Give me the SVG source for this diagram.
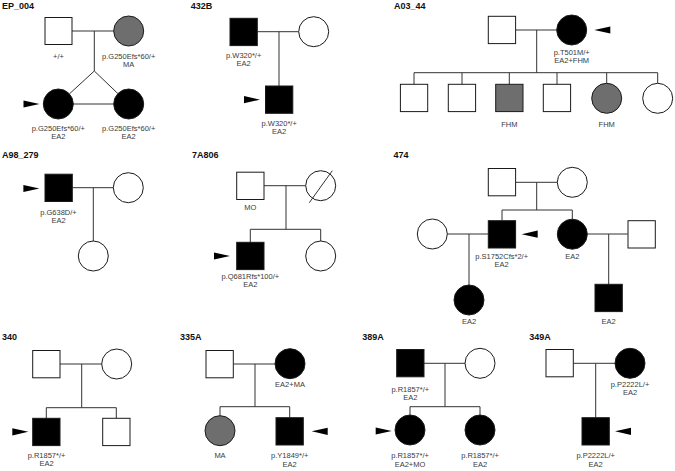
<svg xmlns="http://www.w3.org/2000/svg" xmlns:xlink="http://www.w3.org/1999/xlink" width="675" height="471" viewBox="0 0 675 471">
<style>
.n{fill:#fff;stroke:#1a1a1a;stroke-width:1}
.a{fill:#000;stroke:#1a1a1a;stroke-width:1}
.g{fill:#6e6e6e;stroke:#1a1a1a;stroke-width:1}
.c{fill:none;stroke:#333;stroke-width:1}
.t{font-family:"Liberation Sans",Arial,sans-serif;font-size:9px;font-weight:bold;fill:#111}
.l{font-family:"Liberation Sans",Arial,sans-serif;font-size:7.5px;fill:#3a3a3a;text-anchor:middle}
.arw{fill:#000}
</style>
<defs>
<path id="ar" d="M0,0 L-16,-3.6 L-16,3.6 Z"/>
</defs>
<rect width="675" height="471" fill="#fff"/>

<!-- EP_004 -->
<g id="EP_004">
<text class="t" x="2" y="9">EP_004</text>
<g class="connectors">
<path class="c" d="M72,31 H113.7 M94.3,31 V71 L69.4,93.9 M94.3,71 L117.9,93.6 M73.3,104 H113.7"/>
</g>
<g id="ep_f"><rect class="n" x="45" y="17.5" width="27" height="27"/><text class="l" x="58.5" y="59.3">+/+</text></g>
<g id="ep_m"><circle class="g" cx="128.7" cy="31" r="15"/><text class="l" x="128.7" y="59.3">p.G250Efs*60/+</text><text class="l" x="128.7" y="67.3">MA</text></g>
<g id="ep_c1"><circle class="a" cx="58.3" cy="104" r="15"/><use href="#ar" class="arw" transform="translate(39.5,104)"/><text class="l" x="58.3" y="131">p.G250Efs*60/+</text><text class="l" x="58.3" y="139">EA2</text></g>
<g id="ep_c2"><circle class="a" cx="128.7" cy="104" r="15"/><text class="l" x="128.7" y="131">p.G250Efs*60/+</text><text class="l" x="128.7" y="139">EA2</text></g>
</g>

<!-- 432B -->
<g id="p432B">
<text class="t" x="190.7" y="9">432B</text>
<g class="connectors">
<path class="c" d="M257.3,31.7 H298.7 M279,31.7 V86"/>
</g>
<g id="b_f"><rect class="a" x="230" y="18.3" width="27.3" height="27.3"/><text class="l" x="243.7" y="57.5">p.W320*/+</text><text class="l" x="243.7" y="65.7">EA2</text></g>
<g id="b_m"><circle class="n" cx="313.7" cy="31.7" r="15"/></g>
<g id="b_c"><rect class="a" x="265.5" y="86" width="27.3" height="27.3"/><use href="#ar" class="arw" transform="translate(260,99.7)"/><text class="l" x="279.2" y="126">p.W320*/+</text><text class="l" x="279.2" y="134.2">EA2</text></g>
</g>

<!-- A03_44 -->
<g id="A03_44">
<text class="t" x="394" y="9">A03_44</text>
<g class="connectors">
<path class="c" d="M515.7,30 H556.7 M536.7,30 V72.7 M414,72.7 H657.7 M414,72.7 V84.3 M462,72.7 V84.3 M509.3,72.7 V84.3 M557,72.7 V84.3 M606.7,72.7 V83.3 M657.7,72.7 V83.3"/>
</g>
<g id="a_f"><rect class="n" x="488.3" y="16.3" width="27.3" height="27.3"/></g>
<g id="a_m"><circle class="a" cx="571.7" cy="30" r="15"/><use href="#ar" class="arw" transform="translate(594.3,30) scale(-1,1)"/><text class="l" x="571.7" y="55">p.T501M/+</text><text class="l" x="571.7" y="63.3">EA2+FHM</text></g>
<g id="a_c1"><rect class="n" x="400.4" y="84.3" width="27.3" height="27.3"/></g>
<g id="a_c2"><rect class="n" x="448.3" y="84.3" width="27.3" height="27.3"/></g>
<g id="a_c3"><rect class="g" x="495.7" y="84.3" width="27.3" height="27.3"/><text class="l" x="509.3" y="127">FHM</text></g>
<g id="a_c4"><rect class="n" x="543.3" y="84.3" width="27.3" height="27.3"/></g>
<g id="a_c5"><circle class="g" cx="606.7" cy="98.3" r="15"/><text class="l" x="606.7" y="127">FHM</text></g>
<g id="a_c6"><circle class="n" cx="657.7" cy="98.3" r="15"/></g>
</g>

<!-- A98_279 -->
<g id="A98_279">
<text class="t" x="2" y="158.3">A98_279</text>
<g class="connectors">
<path class="c" d="M72.3,187.7 H113.3 M93.3,187.7 V241"/>
</g>
<g id="c_f"><rect class="a" x="45" y="174.2" width="27.3" height="27.3"/><use href="#ar" class="arw" transform="translate(39.4,188.5)"/><text class="l" x="58.5" y="214.5">p.G638D/+</text><text class="l" x="58.5" y="223">EA2</text></g>
<g id="c_m"><circle class="n" cx="128.3" cy="187.7" r="15"/></g>
<g id="c_c"><circle class="n" cx="93.3" cy="256" r="15"/></g>
</g>

<!-- 7A806 -->
<g id="p7A806">
<text class="t" x="192" y="158.3">7A806</text>
<g class="connectors">
<path class="c" d="M264,185.7 H305.7 M286,185.7 V229.3 M250.3,229.3 H320.7 M250.3,229.3 V242.3 M320.7,229.3 V241"/>
</g>
<g id="d_f"><rect class="n" x="236.7" y="172.2" width="27.3" height="27.3"/><text class="l" x="250.3" y="210">MO</text></g>
<g id="d_m"><circle class="n" cx="320.7" cy="185.7" r="15"/><path class="c" d="M309.3,202.7 L332.3,170.7"/></g>
<g id="d_c1"><rect class="a" x="236.7" y="242.3" width="27.3" height="27.3"/><use href="#ar" class="arw" transform="translate(230,256)"/><text class="l" x="250.3" y="278.5">p.Q681Rfs*100/+</text><text class="l" x="250.3" y="286.8">EA2</text></g>
<g id="d_c2"><circle class="n" cx="320.7" cy="256" r="15"/></g>
</g>

<!-- 474 -->
<g id="p474">
<text class="t" x="393.5" y="158.3">474</text>
<g class="connectors">
<path class="c" d="M515.7,182.3 H557.3 M536.7,182.3 V210 M502,210 H572.3 M502,210 V220.7 M572.3,210 V219.3 M447.3,234 H488.3 M469,234 V285 M587.3,234 H627.7 M608.7,234 V284.3"/>
</g>
<g id="e_gf"><rect class="n" x="488.3" y="168.5" width="27.3" height="27.3"/></g>
<g id="e_gm"><circle class="n" cx="572.3" cy="182.3" r="15"/></g>
<g id="e_s"><rect class="a" x="488.3" y="220.7" width="27.3" height="27.3"/><use href="#ar" class="arw" transform="translate(521.7,234.2) scale(-1,1)"/><text class="l" x="501.7" y="258.5">p.S1752Cfs*2/+</text><text class="l" x="501.7" y="266.8">EA2</text></g>
<g id="e_d"><circle class="a" cx="572.3" cy="234.2" r="15"/><text class="l" x="572.3" y="258.5">EA2</text></g>
<g id="e_w"><circle class="n" cx="432.3" cy="234" r="15"/></g>
<g id="e_h"><rect class="n" x="628" y="220.7" width="27.3" height="27.3"/></g>
<g id="e_gc1"><circle class="a" cx="469" cy="300" r="15"/><text class="l" x="469" y="323.5">EA2</text></g>
<g id="e_gc2"><rect class="a" x="595" y="284.3" width="27.3" height="27.3"/><text class="l" x="608.7" y="323.5">EA2</text></g>
</g>

<!-- 340 -->
<g id="p340">
<text class="t" x="2" y="340">340</text>
<g class="connectors">
<path class="c" d="M60,364 H101.7 M81.7,364 V407.7 M46.3,407.7 H116.3 M46.3,407.7 V418.3 M116.3,407.7 V418.3"/>
</g>
<g id="f_f"><rect class="n" x="32.7" y="350.5" width="27.3" height="27.3"/></g>
<g id="f_m"><circle class="n" cx="116.7" cy="364" r="15"/></g>
<g id="f_c1"><rect class="a" x="32.7" y="418.3" width="27.3" height="27.3"/><use href="#ar" class="arw" transform="translate(28.3,431.8)"/><text class="l" x="46.5" y="457.7">p.R1857*/+</text><text class="l" x="46.5" y="466">EA2</text></g>
<g id="f_c2"><rect class="n" x="102.7" y="418.3" width="27.3" height="27.3"/></g>
</g>

<!-- 335A -->
<g id="p335A">
<text class="t" x="180" y="340">335A</text>
<g class="connectors">
<path class="c" d="M233.3,364 H275 M255,364 V406.7 M220,406.7 H289.7 M220,406.7 V415.7 M289.7,406.7 V417.7"/>
</g>
<g id="g_f"><rect class="n" x="206" y="350.5" width="27.3" height="27.3"/></g>
<g id="g_m"><circle class="a" cx="290" cy="363.7" r="15"/><text class="l" x="290" y="387">EA2+MA</text></g>
<g id="g_c1"><circle class="g" cx="220" cy="430.7" r="15"/><text class="l" x="220" y="458">MA</text></g>
<g id="g_c2"><rect class="a" x="276" y="417.7" width="27.3" height="27.3"/><use href="#ar" class="arw" transform="translate(311.7,431.3) scale(-1,1)"/><text class="l" x="289.7" y="458">p.Y1849*/+</text><text class="l" x="289.7" y="466.5">EA2</text></g>
</g>

<!-- 389A -->
<g id="p389A">
<text class="t" x="362.3" y="340">389A</text>
<g class="connectors">
<path class="c" d="M424,363.3 H465 M445,363.3 V406.7 M410,406.7 H480 M410,406.7 V415 M480,406.7 V415"/>
</g>
<g id="h_f"><rect class="a" x="396.7" y="349.5" width="27.3" height="27.3"/><text class="l" x="410.3" y="391.7">p.R1857*/+</text><text class="l" x="410.3" y="400">EA2</text></g>
<g id="h_m"><circle class="n" cx="480" cy="363.3" r="15"/></g>
<g id="h_c1"><circle class="a" cx="410" cy="430" r="15"/><use href="#ar" class="arw" transform="translate(391.7,431)"/><text class="l" x="410" y="458">p.R1857*/+</text><text class="l" x="410" y="466.5">EA2+MO</text></g>
<g id="h_c2"><circle class="a" cx="480" cy="430" r="15"/><text class="l" x="480" y="458">p.R1857*/+</text><text class="l" x="480" y="466.5">EA2</text></g>
</g>

<!-- 349A -->
<g id="p349A">
<text class="t" x="529.3" y="340">349A</text>
<g class="connectors">
<path class="c" d="M573.3,363.3 H615 M595.7,363.3 V417.7"/>
</g>
<g id="i_f"><rect class="n" x="546" y="349.5" width="27.3" height="27.3"/></g>
<g id="i_m"><circle class="a" cx="630" cy="363.3" r="15"/><text class="l" x="630" y="387">p.P2222L/+</text><text class="l" x="630" y="395.3">EA2</text></g>
<g id="i_c"><rect class="a" x="582" y="417.7" width="27.3" height="27.3"/><use href="#ar" class="arw" transform="translate(615,431.3) scale(-1,1)"/><text class="l" x="595.7" y="458.3">p.P2222L/+</text><text class="l" x="595.7" y="466.7">EA2</text></g>
</g>
</svg>
